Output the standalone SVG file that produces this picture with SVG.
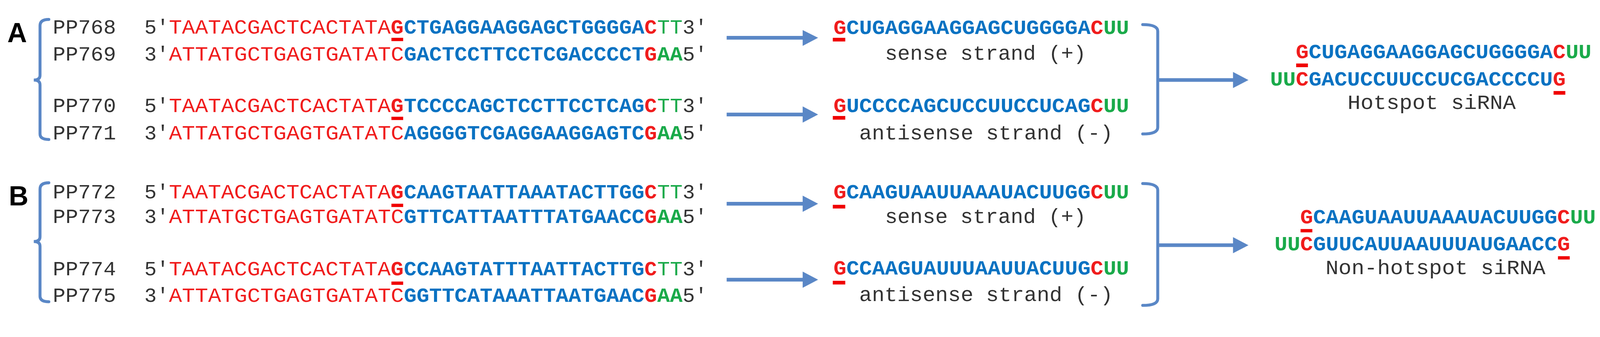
<svg xmlns="http://www.w3.org/2000/svg" width="4369" height="863" viewBox="0 0 4369 863">
<style>
text{font-family:"Liberation Mono","DejaVu Sans Mono",monospace;font-size:56px;fill:#333}
.r{fill:#f01c1c}.rb{fill:#f01c1c;font-weight:bold}.b{fill:#0a72c2;font-weight:bold}.g{fill:#1aaa4a}.gb{fill:#1aaa4a;font-weight:bold}
.lab{font-family:"Liberation Sans",Arial,sans-serif;font-weight:bold;font-size:74px;fill:#000}
.ul{fill:#f00000}
.br{fill:none;stroke:#5a87c6;stroke-width:8;stroke-linecap:round}
.ar{stroke:#5a87c6;stroke-width:10}
.ah{fill:#5a87c6}
</style>
<rect width="4369" height="863" fill="#fff"/>
<g transform="scale(0.94)">
<g id="panelA">
<text class="lab" x="20" y="115">A</text>
<g id="primersA">
<text y="92"><tspan x="144" textLength="172" lengthAdjust="spacingAndGlyphs">PP768</tspan><tspan x="393" textLength="67" lengthAdjust="spacingAndGlyphs">5′</tspan><tspan x="460" class="r" textLength="604" lengthAdjust="spacingAndGlyphs">TAATACGACTCACTATA</tspan><tspan x="1064" class="rb" textLength="35" lengthAdjust="spacingAndGlyphs">G</tspan><tspan x="1100" class="b" textLength="655" lengthAdjust="spacingAndGlyphs">CTGAGGAAGGAGCTGGGGA</tspan><tspan x="1755" class="rb" textLength="34" lengthAdjust="spacingAndGlyphs">C</tspan><tspan x="1790" class="g" textLength="69" lengthAdjust="spacingAndGlyphs">TT</tspan><tspan x="1859" textLength="67" lengthAdjust="spacingAndGlyphs">3′</tspan></text>
<text y="165"><tspan x="144" textLength="172" lengthAdjust="spacingAndGlyphs">PP769</tspan><tspan x="393" textLength="67" lengthAdjust="spacingAndGlyphs">3′</tspan><tspan x="460" class="r" textLength="640" lengthAdjust="spacingAndGlyphs">ATTATGCTGAGTGATATC</tspan><tspan x="1100" class="b" textLength="655" lengthAdjust="spacingAndGlyphs">GACTCCTTCCTCGACCCCT</tspan><tspan x="1755" class="rb" textLength="34" lengthAdjust="spacingAndGlyphs">G</tspan><tspan x="1790" class="gb" textLength="69" lengthAdjust="spacingAndGlyphs">AA</tspan><tspan x="1859" textLength="67" lengthAdjust="spacingAndGlyphs">5′</tspan></text>
<text y="305"><tspan x="144" textLength="172" lengthAdjust="spacingAndGlyphs">PP770</tspan><tspan x="393" textLength="67" lengthAdjust="spacingAndGlyphs">5′</tspan><tspan x="460" class="r" textLength="604" lengthAdjust="spacingAndGlyphs">TAATACGACTCACTATA</tspan><tspan x="1064" class="rb" textLength="35" lengthAdjust="spacingAndGlyphs">G</tspan><tspan x="1100" class="b" textLength="655" lengthAdjust="spacingAndGlyphs">TCCCCAGCTCCTTCCTCAG</tspan><tspan x="1755" class="rb" textLength="34" lengthAdjust="spacingAndGlyphs">C</tspan><tspan x="1790" class="g" textLength="69" lengthAdjust="spacingAndGlyphs">TT</tspan><tspan x="1859" textLength="67" lengthAdjust="spacingAndGlyphs">3′</tspan></text>
<text y="380"><tspan x="144" textLength="172" lengthAdjust="spacingAndGlyphs">PP771</tspan><tspan x="393" textLength="67" lengthAdjust="spacingAndGlyphs">3′</tspan><tspan x="460" class="r" textLength="640" lengthAdjust="spacingAndGlyphs">ATTATGCTGAGTGATATC</tspan><tspan x="1100" class="b" textLength="655" lengthAdjust="spacingAndGlyphs">AGGGGTCGAGGAAGGAGTC</tspan><tspan x="1755" class="rb" textLength="34" lengthAdjust="spacingAndGlyphs">G</tspan><tspan x="1790" class="gb" textLength="69" lengthAdjust="spacingAndGlyphs">AA</tspan><tspan x="1859" textLength="67" lengthAdjust="spacingAndGlyphs">5′</tspan></text>
<rect class="ul" x="1066" y="103" width="32" height="9"/>
<rect class="ul" x="1066" y="318" width="32" height="9"/>
<path class="br" d="M133,53 Q109,53 109,70 V205 Q109,218 92,218 Q109,218 109,231 V365 Q109,380 133,380"/>
</g>
<g id="strandsA">
<text y="93"><tspan x="2270" class="rb" textLength="35" lengthAdjust="spacingAndGlyphs">G</tspan><tspan x="2305" class="b" textLength="665" lengthAdjust="spacingAndGlyphs">CUGAGGAAGGAGCUGGGGA</tspan><tspan x="2970" class="rb" textLength="35" lengthAdjust="spacingAndGlyphs">C</tspan><tspan x="3005" class="gb" textLength="70" lengthAdjust="spacingAndGlyphs">UU</tspan></text>
<rect class="ul" x="2268" y="103" width="34" height="10"/>
<text x="2410" y="163" textLength="548" lengthAdjust="spacingAndGlyphs">sense strand (+)</text>
<text y="305"><tspan x="2270" class="rb" textLength="35" lengthAdjust="spacingAndGlyphs">G</tspan><tspan x="2305" class="b" textLength="665" lengthAdjust="spacingAndGlyphs">UCCCCAGCUCCUUCCUCAG</tspan><tspan x="2970" class="rb" textLength="35" lengthAdjust="spacingAndGlyphs">C</tspan><tspan x="3005" class="gb" textLength="70" lengthAdjust="spacingAndGlyphs">UU</tspan></text>
<rect class="ul" x="2268" y="316" width="34" height="10"/>
<text x="2340" y="380" textLength="691" lengthAdjust="spacingAndGlyphs">antisense strand (-)</text>
</g>
<g id="siRNA_A">
<text y="158"><tspan x="3529" class="rb" textLength="35" lengthAdjust="spacingAndGlyphs">G</tspan><tspan x="3564" class="b" textLength="665" lengthAdjust="spacingAndGlyphs">CUGAGGAAGGAGCUGGGGA</tspan><tspan x="4229" class="rb" textLength="35" lengthAdjust="spacingAndGlyphs">C</tspan><tspan x="4264" class="gb" textLength="70" lengthAdjust="spacingAndGlyphs">UU</tspan></text>
<rect class="ul" x="3530" y="173" width="32" height="10"/>
<text y="233"><tspan x="3459" class="gb" textLength="70" lengthAdjust="spacingAndGlyphs">UU</tspan><tspan x="3529" class="rb" textLength="35" lengthAdjust="spacingAndGlyphs">C</tspan><tspan x="3564" class="b" textLength="665" lengthAdjust="spacingAndGlyphs">GACUCCUUCCUCGACCCCU</tspan><tspan x="4229" class="rb" textLength="35" lengthAdjust="spacingAndGlyphs">G</tspan></text>
<rect class="ul" x="4231" y="248" width="32" height="10"/>
<text x="3670" y="297" textLength="458" lengthAdjust="spacingAndGlyphs">Hotspot siRNA</text>
</g>
</g>
<g id="panelB">
<text class="lab" x="24" y="560">B</text>
<g id="primersB">
<text y="540"><tspan x="144" textLength="172" lengthAdjust="spacingAndGlyphs">PP772</tspan><tspan x="393" textLength="67" lengthAdjust="spacingAndGlyphs">5′</tspan><tspan x="460" class="r" textLength="604" lengthAdjust="spacingAndGlyphs">TAATACGACTCACTATA</tspan><tspan x="1064" class="rb" textLength="35" lengthAdjust="spacingAndGlyphs">G</tspan><tspan x="1100" class="b" textLength="655" lengthAdjust="spacingAndGlyphs">CAAGTAATTAAATACTTGG</tspan><tspan x="1755" class="rb" textLength="34" lengthAdjust="spacingAndGlyphs">C</tspan><tspan x="1790" class="g" textLength="69" lengthAdjust="spacingAndGlyphs">TT</tspan><tspan x="1859" textLength="67" lengthAdjust="spacingAndGlyphs">3′</tspan></text>
<text y="607"><tspan x="144" textLength="172" lengthAdjust="spacingAndGlyphs">PP773</tspan><tspan x="393" textLength="67" lengthAdjust="spacingAndGlyphs">3′</tspan><tspan x="460" class="r" textLength="640" lengthAdjust="spacingAndGlyphs">ATTATGCTGAGTGATATC</tspan><tspan x="1100" class="b" textLength="655" lengthAdjust="spacingAndGlyphs">GTTCATTAATTTATGAACC</tspan><tspan x="1755" class="rb" textLength="34" lengthAdjust="spacingAndGlyphs">G</tspan><tspan x="1790" class="gb" textLength="69" lengthAdjust="spacingAndGlyphs">AA</tspan><tspan x="1859" textLength="67" lengthAdjust="spacingAndGlyphs">5′</tspan></text>
<text y="750"><tspan x="144" textLength="172" lengthAdjust="spacingAndGlyphs">PP774</tspan><tspan x="393" textLength="67" lengthAdjust="spacingAndGlyphs">5′</tspan><tspan x="460" class="r" textLength="604" lengthAdjust="spacingAndGlyphs">TAATACGACTCACTATA</tspan><tspan x="1064" class="rb" textLength="35" lengthAdjust="spacingAndGlyphs">G</tspan><tspan x="1100" class="b" textLength="655" lengthAdjust="spacingAndGlyphs">CCAAGTATTTAATTACTTG</tspan><tspan x="1755" class="rb" textLength="34" lengthAdjust="spacingAndGlyphs">C</tspan><tspan x="1790" class="g" textLength="69" lengthAdjust="spacingAndGlyphs">TT</tspan><tspan x="1859" textLength="67" lengthAdjust="spacingAndGlyphs">3′</tspan></text>
<text y="822"><tspan x="144" textLength="172" lengthAdjust="spacingAndGlyphs">PP775</tspan><tspan x="393" textLength="67" lengthAdjust="spacingAndGlyphs">3′</tspan><tspan x="460" class="r" textLength="640" lengthAdjust="spacingAndGlyphs">ATTATGCTGAGTGATATC</tspan><tspan x="1100" class="b" textLength="655" lengthAdjust="spacingAndGlyphs">GGTTCATAAATTAATGAAC</tspan><tspan x="1755" class="rb" textLength="34" lengthAdjust="spacingAndGlyphs">G</tspan><tspan x="1790" class="gb" textLength="69" lengthAdjust="spacingAndGlyphs">AA</tspan><tspan x="1859" textLength="67" lengthAdjust="spacingAndGlyphs">5′</tspan></text>
<rect class="ul" x="1066" y="555" width="32" height="9"/>
<rect class="ul" x="1066" y="767" width="32" height="9"/>
<path class="br" d="M133,498 Q109,498 109,515 V645 Q109,658 92,658 Q109,658 109,671 V807 Q109,822 133,822"/>
</g>
<g id="strandsB">
<text y="540"><tspan x="2270" class="rb" textLength="35" lengthAdjust="spacingAndGlyphs">G</tspan><tspan x="2305" class="b" textLength="665" lengthAdjust="spacingAndGlyphs">CAAGUAAUUAAAUACUUGG</tspan><tspan x="2970" class="rb" textLength="35" lengthAdjust="spacingAndGlyphs">C</tspan><tspan x="3005" class="gb" textLength="70" lengthAdjust="spacingAndGlyphs">UU</tspan></text>
<rect class="ul" x="2268" y="558" width="34" height="10"/>
<text x="2410" y="607" textLength="548" lengthAdjust="spacingAndGlyphs">sense strand (+)</text>
<text y="748"><tspan x="2270" class="rb" textLength="35" lengthAdjust="spacingAndGlyphs">G</tspan><tspan x="2305" class="b" textLength="665" lengthAdjust="spacingAndGlyphs">CCAAGUAUUUAAUUACUUG</tspan><tspan x="2970" class="rb" textLength="35" lengthAdjust="spacingAndGlyphs">C</tspan><tspan x="3005" class="gb" textLength="70" lengthAdjust="spacingAndGlyphs">UU</tspan></text>
<rect class="ul" x="2268" y="765" width="34" height="10"/>
<text x="2340" y="820" textLength="691" lengthAdjust="spacingAndGlyphs">antisense strand (-)</text>
</g>
<g id="siRNA_B">
<text y="608"><tspan x="3541" class="rb" textLength="35" lengthAdjust="spacingAndGlyphs">G</tspan><tspan x="3576" class="b" textLength="665" lengthAdjust="spacingAndGlyphs">CAAGUAAUUAAAUACUUGG</tspan><tspan x="4241" class="rb" textLength="35" lengthAdjust="spacingAndGlyphs">C</tspan><tspan x="4276" class="gb" textLength="70" lengthAdjust="spacingAndGlyphs">UU</tspan></text>
<rect class="ul" x="3542" y="624" width="32" height="9"/>
<text y="682"><tspan x="3471" class="gb" textLength="70" lengthAdjust="spacingAndGlyphs">UU</tspan><tspan x="3541" class="rb" textLength="35" lengthAdjust="spacingAndGlyphs">C</tspan><tspan x="3576" class="b" textLength="665" lengthAdjust="spacingAndGlyphs">GUUCAUUAAUUUAUGAACC</tspan><tspan x="4241" class="rb" textLength="35" lengthAdjust="spacingAndGlyphs">G</tspan></text>
<rect class="ul" x="4243" y="698" width="32" height="9"/>
<text x="3610" y="747" textLength="599" lengthAdjust="spacingAndGlyphs">Non-hotspot siRNA</text>
</g>
</g>
<g id="connectors">
<line class="ar" x1="1979" y1="103" x2="2190" y2="103"/><polygon class="ah" points="2186,82 2228,103 2186,125"/>
<line class="ar" x1="1979" y1="312" x2="2190" y2="312"/><polygon class="ah" points="2186,290 2228,312 2186,334"/>
<line class="ar" x1="1979" y1="555" x2="2190" y2="555"/><polygon class="ah" points="2186,533 2228,555 2186,577"/>
<line class="ar" x1="1979" y1="762" x2="2190" y2="762"/><polygon class="ah" points="2186,740 2228,762 2186,784"/>
<path class="br" d="M3112,67 Q3153,67 3153,85 V347 Q3153,365 3112,365"/>
<line class="ar" x1="3153" y1="218" x2="3362" y2="218"/><polygon class="ah" points="3358,196 3400,218 3358,240"/>
<path class="br" d="M3112,500 Q3153,500 3153,518 V814 Q3153,832 3112,832"/>
<line class="ar" x1="3153" y1="668" x2="3362" y2="668"/><polygon class="ah" points="3358,646 3400,668 3358,690"/>
</g>
</g>
</svg>
